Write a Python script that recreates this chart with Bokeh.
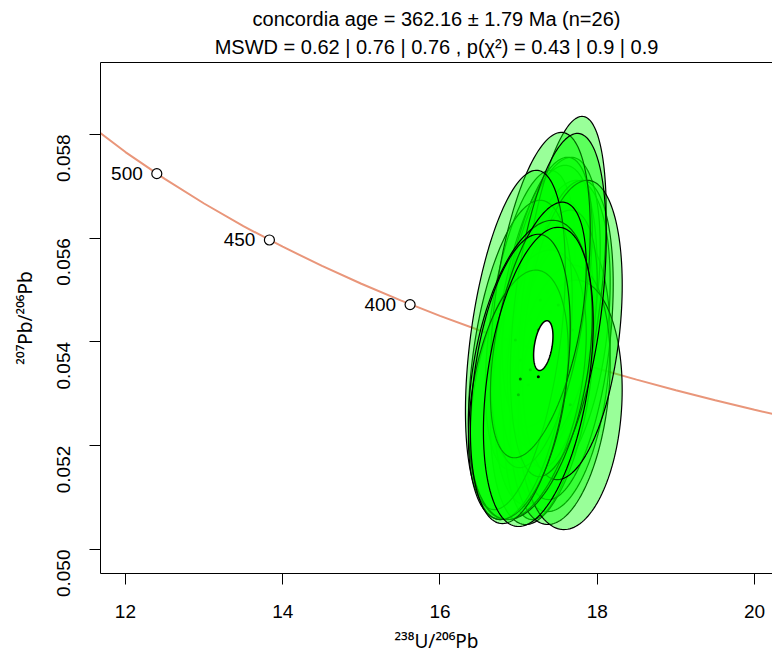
import numpy as np
from bokeh.plotting import figure
from bokeh.models import FixedTicker, PrintfTickFormatter, LinearAxis, Title, Range1d
from bokeh.embed import file_html
from bokeh.resources import INLINE
from bokeh.core.properties import value

FONT = "Liberation Sans"
LABEL_FONT = "Noto Sans"

# ---- data ----
# aliquot ellipses: centre, 1-sigma errors and error correlation
ell_x = [17.530, 17.149, 17.340, 17.530, 17.187, 17.378, 17.467, 17.302, 17.403, 17.594,
         17.365, 17.530, 17.429, 17.556, 17.657, 17.683, 17.124, 17.022, 17.276, 17.505,
         16.959, 17.149, 16.997, 17.251, 17.022, 17.251]
ell_y = [0.054231, 0.054423, 0.054135, 0.053423, 0.053750, 0.053654, 0.053942, 0.053365, 0.054577, 0.054038,
         0.054962, 0.052981, 0.054231, 0.054962, 0.052788, 0.054231, 0.053173, 0.053654, 0.054808, 0.054712,
         0.054038, 0.053462, 0.052981, 0.054231, 0.053288, 0.053327]
ell_sx = [0.2594, 0.2335, 0.2698, 0.2594, 0.2179, 0.2335, 0.2075, 0.2698, 0.2594, 0.2490,
          0.2335, 0.2594, 0.2335, 0.2283, 0.2698, 0.2594, 0.3009, 0.2698, 0.2594, 0.2490,
          0.2594, 0.3216, 0.2594, 0.2490, 0.2594, 0.2853]
ell_sy = [0.001178, 0.001178, 0.001336, 0.001100, 0.000864, 0.001257, 0.000825, 0.001178, 0.001218, 0.001257,
          0.001061, 0.001021, 0.000943, 0.001383, 0.000982, 0.001178, 0.001061, 0.001257, 0.001320, 0.001351,
          0.001336, 0.001178, 0.000982, 0.001006, 0.001139, 0.001178]
ell_rho = [0.32, 0.45, 0.38, 0.25, 0.40, 0.36, 0.35, 0.32, 0.42, 0.35,
           0.45, 0.25, 0.40, 0.45, 0.12, 0.30, 0.38, 0.38, 0.42, 0.40,
           0.42, 0.36, 0.35, 0.50, 0.36, 0.36]

# concordia age ellipse
age_x, age_y, age_sx, age_sy, age_rho = 17.314, 0.053929, 0.0503, 0.000196, 0.38

# concordia line (238U/206Pb, 207Pb/206Pb)
conc_x = [11.6, 12.0, 12.5, 13.0, 13.5, 14.0, 14.5, 15.0, 15.5, 16.0,
          16.5, 17.0, 17.5, 18.0, 18.5, 19.0, 19.5, 20.0, 20.3]
conc_y = [0.058119, 0.057659, 0.057142, 0.056668, 0.056231, 0.055835, 0.055465, 0.055121, 0.054801, 0.054503,
          0.054225, 0.053963, 0.053720, 0.053490, 0.053274, 0.053069, 0.052875, 0.052693, 0.052589]

# age markers on the concordia (Ma)
mark_label = ["500", "450", "400"]
mark_x = [12.399, 13.831, 15.620]
mark_y = [0.057243, 0.055965, 0.054720]

x_ticks = [12, 14, 16, 18, 20]
y_ticks = [0.050, 0.052, 0.054, 0.056, 0.058]

title1 = "concordia age = 362.16 \u00b1 1.79 Ma (n=26)"
title2 = "MSWD = 0.62 | 0.76 | 0.76 , p(\u03c7\u00b2) = 0.43 | 0.9 | 0.9"
x_label = "\u00b2\u00b3\u2078U/\u00b2\u2070\u2076Pb"
y_label = "\u00b2\u2070\u2077Pb/\u00b2\u2070\u2076Pb"

# ---- figure ----
K = 2.4477  # 95% confidence scaling for 2 dof
tt = np.linspace(0, 2 * np.pi, 160)


def ellipse(cx, cy, sx, sy, r):
    ex = cx + K * sx * np.cos(tt)
    ey = cy + K * sy * (r * np.cos(tt) + np.sqrt(1 - r * r) * np.sin(tt))
    return ex, ey


p = figure(width=772, height=656, output_backend="svg", toolbar_location=None,
           x_range=Range1d(11.683, 20.229), y_range=Range1d(0.049538, 0.059385),
           min_border_left=100, min_border_right=0, min_border_top=62, min_border_bottom=82)
p.outline_line_color = None
p.grid.visible = False
p.background_fill_color = "white"
p.border_fill_color = "white"

for ax in (p.xaxis[0], p.yaxis[0]):
    ax.axis_line_color = "black"
    ax.axis_line_width = 1
    ax.major_tick_out = 11
    ax.major_tick_in = 0
    ax.major_tick_line_color = "black"
    ax.minor_tick_line_color = None
    ax.major_label_text_font = FONT
    ax.major_label_text_font_size = "19px"
    ax.major_label_text_color = "black"
    ax.axis_label_text_font = LABEL_FONT
    ax.axis_label_text_font_size = "19px"
    ax.axis_label_text_font_style = "normal"
    ax.axis_label_text_color = "black"

p.xaxis[0].ticker = FixedTicker(ticks=x_ticks)
p.xaxis[0].axis_label = x_label
p.xaxis[0].major_label_standoff = 20
p.xaxis[0].axis_label_standoff = 7

p.yaxis[0].ticker = FixedTicker(ticks=y_ticks)
p.yaxis[0].formatter = PrintfTickFormatter(format="%.3f")
p.yaxis[0].major_label_orientation = np.pi / 2
p.yaxis[0].axis_label = y_label
p.yaxis[0].major_label_standoff = 26
p.yaxis[0].axis_label_standoff = 10

top_axis = LinearAxis(ticker=FixedTicker(ticks=[]), axis_line_color="black", axis_line_width=1,
                      major_tick_out=0, major_tick_in=0, minor_tick_line_color=None,
                      major_label_text_font_size="0px", major_label_standoff=0)
p.add_layout(top_axis, "above")
p.add_layout(Title(text=title2, align="center", text_font=FONT, text_font_size="20px",
                   text_font_style="normal", text_color="black", offset=4, standoff=9), "above")
p.add_layout(Title(text=title1, align="center", text_font=FONT, text_font_size="20px",
                   text_font_style="normal", text_color="black", offset=4, standoff=0), "above")

# concordia line
p.line(conc_x, conc_y, line_color="#E9967A", line_width=2)

# aliquot ellipses, drawn in order with their centre dots
for cx, cy, sx, sy, r in zip(ell_x, ell_y, ell_sx, ell_sy, ell_rho):
    ex, ey = ellipse(cx, cy, sx, sy, r)
    p.patch(ex, ey, fill_color="#00ff00", fill_alpha=0.4, line_color="black", line_width=1.2)
    p.scatter([cx], [cy], size=3, fill_color="black", line_color=None)

# concordia age ellipse
ax_, ay_ = ellipse(age_x, age_y, age_sx, age_sy, age_rho)
p.patch(ax_, ay_, fill_color="white", line_color="black", line_width=1.5)

# age markers
p.scatter(mark_x, mark_y, size=10, fill_color="white", line_color="black", line_width=1.2)
p.text(mark_x, mark_y, text=mark_label, x_offset=-14, text_align="right", text_baseline="middle",
       text_font=value(FONT), text_font_size="19px", text_color="black")

open("out.html", "w").write(file_html(p, INLINE))
